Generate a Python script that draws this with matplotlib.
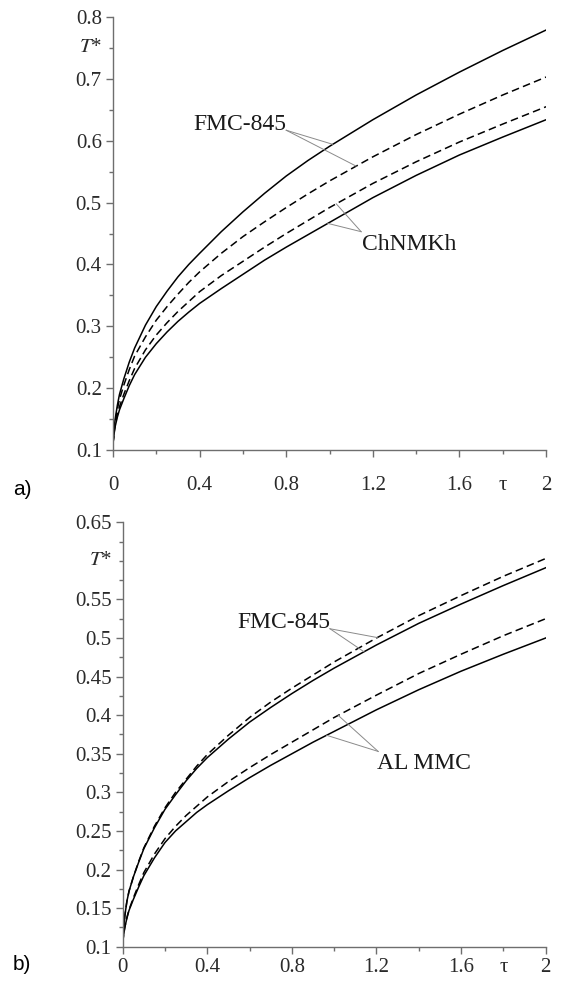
import numpy as np
import matplotlib
matplotlib.use('Agg')
import matplotlib.pyplot as plt
from matplotlib.ticker import MultipleLocator

plt.rcParams['font.family'] = ['Liberation Serif', 'DejaVu Serif']
plt.rcParams['mathtext.fontset'] = 'stix'

# --- data ---
tau = [0, 0.005, 0.01, 0.02, 0.03, 0.05, 0.075, 0.1, 0.15, 0.2, 0.25, 0.3, 0.35, 0.4,
       0.5, 0.6, 0.7, 0.8, 0.9, 1.0, 1.2, 1.4, 1.6, 1.8, 2.0]

# a) FMC-845 / ChNMKh
a_solid_top = [0.110, 0.135, 0.150, 0.172, 0.190, 0.215, 0.242, 0.265, 0.302, 0.332, 0.357, 0.380, 0.400,
               0.418, 0.453, 0.485, 0.515, 0.543, 0.568, 0.591, 0.634, 0.674, 0.711, 0.746, 0.779]
a_dash_top = [0.110, 0.131, 0.145, 0.166, 0.182, 0.205, 0.230, 0.252, 0.283, 0.310, 0.332, 0.352, 0.371,
              0.388, 0.418, 0.445, 0.469, 0.492, 0.514, 0.535, 0.574, 0.610, 0.643, 0.674, 0.703]
a_dash_low = [0.110, 0.128, 0.140, 0.157, 0.170, 0.190, 0.212, 0.232, 0.262, 0.286, 0.306, 0.324, 0.340,
              0.356, 0.382, 0.405, 0.428, 0.450, 0.471, 0.492, 0.531, 0.566, 0.598, 0.627, 0.655]
a_solid_low = [0.110, 0.126, 0.138, 0.153, 0.165, 0.183, 0.204, 0.222, 0.250, 0.272, 0.291, 0.308, 0.323,
               0.337, 0.361, 0.384, 0.407, 0.428, 0.448, 0.468, 0.508, 0.544, 0.577, 0.606, 0.634]

# b) FMC-845 / AL MMC
b_dash_top = [0.105, 0.125, 0.140, 0.159, 0.172, 0.190, 0.210, 0.228, 0.256, 0.280, 0.300, 0.317, 0.334,
              0.349, 0.374, 0.397, 0.417, 0.435, 0.452, 0.469, 0.500, 0.529, 0.555, 0.580, 0.603]
b_solid_top = [0.105, 0.125, 0.140, 0.159, 0.172, 0.190, 0.209, 0.227, 0.254, 0.278, 0.297, 0.315, 0.331,
               0.345, 0.369, 0.391, 0.410, 0.428, 0.445, 0.461, 0.491, 0.519, 0.544, 0.568, 0.591]
b_dash_low = [0.105, 0.117, 0.125, 0.138, 0.148, 0.163, 0.180, 0.196, 0.220, 0.240, 0.256, 0.270, 0.282,
              0.294, 0.314, 0.332, 0.349, 0.365, 0.381, 0.397, 0.426, 0.454, 0.479, 0.503, 0.525]
b_solid_low = [0.105, 0.116, 0.125, 0.137, 0.147, 0.161, 0.177, 0.192, 0.215, 0.235, 0.250, 0.262, 0.274,
               0.284, 0.302, 0.319, 0.335, 0.350, 0.365, 0.379, 0.407, 0.433, 0.457, 0.479, 0.500]

a_ticks = [0.1, 0.2, 0.3, 0.4, 0.5, 0.6, 0.7, 0.8]
b_ticks = [0.1, 0.15, 0.2, 0.25, 0.3, 0.35, 0.4, 0.45, 0.5, 0.55, 0.65]
x_ticks = [0, 0.4, 0.8, 1.2, 1.6, 2]

axcol = '#6e6e6e'
txtcol = '#2a2a2a'
dash = (0, (5, 2.8))

fig = plt.figure(figsize=(5.61, 9.85), dpi=100)
ax1 = fig.add_axes([0.2014, 0.5431, 0.772, 0.4396])
ax2 = fig.add_axes([0.2187, 0.0389, 0.754, 0.4309])


def style(ax, yt, ymin, ymax, yminor, xpad):
    ax.set_xlim(0, 2)
    ax.set_ylim(ymin, ymax)
    for s in ['top', 'right']:
        ax.spines[s].set_visible(False)
    for s in ['left', 'bottom']:
        ax.spines[s].set_color(axcol)
        ax.spines[s].set_linewidth(1.0)
    ax.set_xticks(x_ticks)
    ax.set_xticklabels(['0', '0.4', '0.8', '1.2', '1.6', '2'])
    ax.xaxis.set_minor_locator(MultipleLocator(0.2))
    ax.set_yticks(yt)
    ax.set_yticklabels(['%g' % v for v in yt])
    ax.yaxis.set_minor_locator(MultipleLocator(yminor))
    ax.tick_params(which='major', direction='out', length=5, width=1.0, color=axcol,
                   labelsize=15, labelcolor=txtcol, pad=3)
    ax.tick_params(axis='x', which='major', pad=xpad)
    ax.tick_params(which='minor', direction='out', length=3, width=1.0, color=axcol)
    ax.patch.set_alpha(0)


style(ax1, a_ticks, 0.1, 0.8, 0.05, 14)
style(ax2, b_ticks, 0.1, 0.65, 0.025, 3)

lw = 1.1
ax1.plot(tau, a_solid_top, color='k', lw=lw)
ax1.plot(tau, a_dash_top, color='k', lw=lw, linestyle=dash)
ax1.plot(tau, a_dash_low, color='k', lw=lw, linestyle=dash)
ax1.plot(tau, a_solid_low, color='k', lw=lw)

ax2.plot(tau, b_dash_top, color='k', lw=lw, linestyle=dash)
ax2.plot(tau, b_solid_top, color='k', lw=lw)
ax2.plot(tau, b_dash_low, color='k', lw=lw, linestyle=dash)
ax2.plot(tau, b_solid_low, color='k', lw=lw)

# axis names placed among the tick labels
for ax, ty, xoff in [(ax1, 0.75, -19), (ax2, 0.6, -8)]:
    ax.annotate('$T$*', xy=(0, ty), xycoords=ax.get_yaxis_transform(),
                xytext=(-8, 0), textcoords='offset points',
                ha='right', va='center', fontsize=15, color=txtcol)
    ax.annotate('τ', xy=(1.8, 0), xycoords=('data', 'axes fraction'),
                xytext=(0, xoff), textcoords='offset points',
                ha='center', va='top', fontsize=15, color=txtcol)


def leader(ax, x0, y0, x1, series):
    y1 = np.interp(x1, tau, series)
    ax.plot([x0, x1], [y0, y1], color='#8a8a8a', lw=0.7)


# a) labels
ax1.text(0.80, 0.618, 'FMC-845', ha='right', va='baseline', fontsize=17, color='#1a1a1a')
leader(ax1, 0.80, 0.617, 1.015, a_solid_top)
leader(ax1, 0.80, 0.617, 1.123, a_dash_top)
ax1.text(1.152, 0.424, 'ChNMKh', ha='left', va='baseline', fontsize=17, color='#1a1a1a')
leader(ax1, 1.146, 0.453, 1.031, a_dash_low)
leader(ax1, 1.146, 0.453, 0.992, a_solid_low)

# b) labels
ax2.text(0.98, 0.513, 'FMC-845', ha='right', va='baseline', fontsize=17, color='#1a1a1a')
leader(ax2, 0.98, 0.512, 1.204, b_dash_top)
leader(ax2, 0.98, 0.512, 1.141, b_solid_top)
ax2.text(1.204, 0.330, 'AL MMC', ha='left', va='baseline', fontsize=17, color='#1a1a1a')
leader(ax2, 1.208, 0.353, 1.019, b_dash_low)
leader(ax2, 1.208, 0.353, 0.964, b_solid_low)

fig.text(13 / 561, 1 - 490 / 985, 'a)', family='Liberation Sans', fontsize=15, ha='left', va='center')
fig.text(13 / 561, 1 - 964 / 985, 'b)', family='Liberation Sans', fontsize=15, ha='left', va='center')

fig.savefig('out.png', dpi=100)
